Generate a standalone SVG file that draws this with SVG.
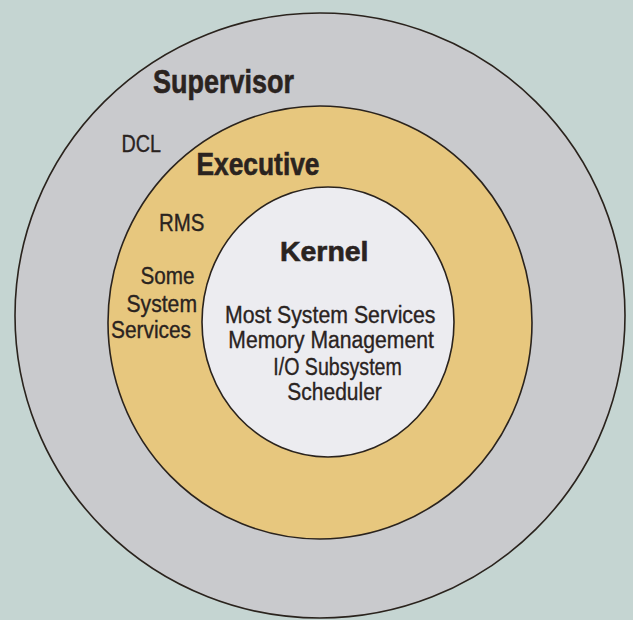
<svg xmlns="http://www.w3.org/2000/svg" width="633" height="620" viewBox="0 0 633 620">
  <style>
    .ring { stroke: #2a231d; stroke-width: 1.6; }
    .t { font-family: "Liberation Sans", Arial, sans-serif; fill: #2a231f; stroke: #2a231f; }
    .b { font-weight: bold; stroke-width: 0.6; }
    .r { font-weight: normal; font-size: 23.5px; stroke-width: 0.35; }
  </style>
  <rect x="0" y="0" width="633" height="620" fill="#c5d5d2"/>
  <g id="supervisor">
    <ellipse class="ring" cx="320" cy="315.5" rx="305" ry="302.5" fill="#c9cacd"/>
    <text class="t b" x="153" y="92.5" font-size="33" textLength="141" lengthAdjust="spacingAndGlyphs">Supervisor</text>
    <text class="t r" x="121.5" y="151.5" textLength="39.5" lengthAdjust="spacingAndGlyphs">DCL</text>
  </g>
  <g id="executive">
    <ellipse class="ring" cx="320" cy="322.5" rx="212" ry="216.5" fill="#e7c77e"/>
    <text class="t b" x="196.5" y="175" font-size="32" textLength="123" lengthAdjust="spacingAndGlyphs">Executive</text>
    <text class="t r" x="159" y="230.5" textLength="45.5" lengthAdjust="spacingAndGlyphs">RMS</text>
    <text class="t r" x="140.5" y="284" textLength="54" lengthAdjust="spacingAndGlyphs">Some</text>
    <text class="t r" x="126.5" y="311.5" textLength="70.5" lengthAdjust="spacingAndGlyphs">System</text>
    <text class="t r" x="111" y="338.3" textLength="80" lengthAdjust="spacingAndGlyphs">Services</text>
  </g>
  <g id="kernel">
    <ellipse class="ring" cx="328" cy="322" rx="126" ry="135" fill="#ececf0"/>
    <text class="t b" x="280" y="261" font-size="27.5" textLength="88.5" lengthAdjust="spacingAndGlyphs">Kernel</text>
    <text class="t r" x="225" y="322.7" textLength="210.5" lengthAdjust="spacingAndGlyphs">Most System Services</text>
    <text class="t r" x="228.3" y="348.3" textLength="205.5" lengthAdjust="spacingAndGlyphs">Memory Management</text>
    <text class="t r" x="273.3" y="375" textLength="128.5" lengthAdjust="spacingAndGlyphs">I/O Subsystem</text>
    <text class="t r" x="287.3" y="400" textLength="94.5" lengthAdjust="spacingAndGlyphs">Scheduler</text>
  </g>
</svg>
